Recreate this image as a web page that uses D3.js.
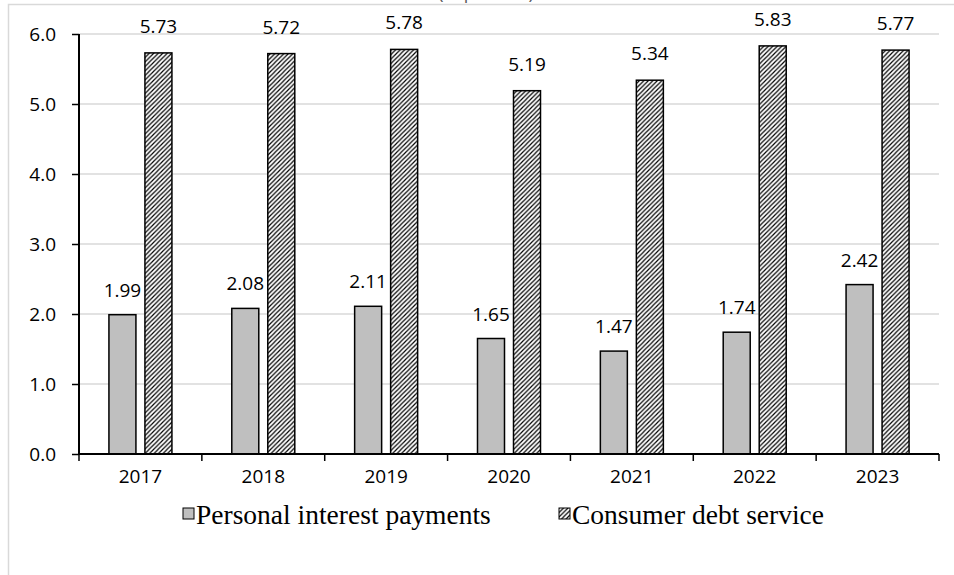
<!DOCTYPE html>
<html lang="en">
<head>
    <meta charset="utf-8">
    <title>Interest payments and debt service</title>
    <script src="https://cdn.jsdelivr.net/npm/d3@7"></script>
    <style>
        body { margin: 0; background: #fff; }
        svg { display: block; }
    </style>
</head>
<body>
<div id="chart"></div>
<script>
    // values
    var years = ["2017", "2018", "2019", "2020", "2021", "2022", "2023"];
    var personalInterest = [1.99, 2.08, 2.11, 1.65, 1.47, 1.74, 2.42];
    var consumerDebt = [5.73, 5.72, 5.78, 5.19, 5.34, 5.83, 5.77];
    var yTicks = [0, 1, 2, 3, 4, 5, 6];
    var seriesNames = ["Personal interest payments", "Consumer debt service"];

    var w = 954;
    var h = 575;
    var plotLeft = 79, plotRight = 939, plotTop = 34, plotBottom = 454;
    var labelFont = "'Open Sans', sans-serif";
    var labelSize = "19px";

    var svg = d3.select("#chart")
        .append("svg")
        .attr("width", w)
        .attr("height", h);

    // hatch for the second series
    var defs = svg.append("defs");
    defs.append("pattern")
        .attr("id", "hatch")
        .attr("patternUnits", "userSpaceOnUse")
        .attr("width", 4.5)
        .attr("height", 4.5)
        .call(function (p) {
            p.append("rect").attr("width", 4.5).attr("height", 4.5).attr("fill", "#fff");
            p.append("path")
                .attr("d", "M-1,1 l2,-2 M0,4.5 l4.5,-4.5 M3.5,5.5 l2,-2")
                .attr("stroke", "#000")
                .attr("stroke-width", 1.2);
        });

    // outer chart border (runs off the page right and bottom)
    svg.append("rect")
        .attr("x", 8.5)
        .attr("y", 4.5)
        .attr("width", 1000)
        .attr("height", 700)
        .attr("fill", "none")
        .attr("stroke", "#d9d9d9")
        .attr("stroke-width", 1.5);

    // title mostly cut off above the frame
    svg.append("text")
        .attr("x", 486)
        .attr("y", -1.5)
        .attr("text-anchor", "middle")
        .style("font-family", labelFont)
        .style("font-size", "18px")
        .style("fill", "#595959")
        .text("(in percent)");

    var xScale = d3.scaleBand()
        .domain(years)
        .range([plotLeft, plotRight])
        .paddingInner(0);

    var xInner = d3.scaleBand()
        .domain(["p", "c"])
        .range([-31.5, 31.5])
        .paddingInner(0.25);

    var yScale = d3.scaleLinear()
        .domain([0, 6])
        .range([plotBottom, plotTop]);

    // gridlines
    svg.append("g")
        .selectAll("line")
        .data(yTicks.slice(1))
        .enter()
        .append("line")
        .attr("x1", plotLeft)
        .attr("x2", plotRight)
        .attr("y1", function (d) { return yScale(d); })
        .attr("y2", function (d) { return yScale(d); })
        .attr("stroke", "#d9d9d9")
        .attr("stroke-width", 1.5);

    var rows = years.map(function (y, i) {
        return { year: y, p: personalInterest[i], c: consumerDebt[i] };
    });

    function center(d) {
        return xScale(d.year) + xScale.bandwidth() / 2;
    }

    var groups = svg.append("g")
        .selectAll("g")
        .data(rows)
        .enter()
        .append("g");

    groups.append("rect")
        .attr("x", function (d) { return center(d) + xInner("p"); })
        .attr("y", function (d) { return yScale(d.p); })
        .attr("width", xInner.bandwidth())
        .attr("height", function (d) { return yScale(0) - yScale(d.p); })
        .attr("fill", "#bfbfbf")
        .attr("stroke", "#000")
        .attr("stroke-width", 1.5);

    groups.append("rect")
        .attr("x", function (d) { return center(d) + xInner("c"); })
        .attr("y", function (d) { return yScale(d.c); })
        .attr("width", xInner.bandwidth())
        .attr("height", function (d) { return yScale(0) - yScale(d.c); })
        .attr("fill", "url(#hatch)")
        .attr("stroke", "#000")
        .attr("stroke-width", 1.5);

    // value labels
    groups.append("text")
        .attr("x", function (d) { return center(d) + xInner("p") + xInner.bandwidth() / 2; })
        .attr("y", function (d) { return yScale(d.p) - 18; })
        .attr("text-anchor", "middle")
        .style("font-family", labelFont)
        .style("font-size", labelSize)
        .text(function (d) { return d.p.toFixed(2); });

    groups.append("text")
        .attr("x", function (d) { return center(d) + xInner("c") + xInner.bandwidth() / 2; })
        .attr("y", function (d) { return yScale(d.c) - 20; })
        .attr("text-anchor", "middle")
        .style("font-family", labelFont)
        .style("font-size", labelSize)
        .text(function (d) { return d.c.toFixed(2); });

    // y axis
    var yAxis = d3.axisLeft(yScale)
        .tickValues(yTicks)
        .tickSize(7)
        .tickPadding(16)
        .tickFormat(d3.format(".1f"));

    var gy = svg.append("g")
        .attr("transform", "translate(" + plotLeft + ",0)")
        .call(yAxis);
    gy.select(".domain").attr("stroke-width", 2).attr("d", "M0," + plotBottom + "V" + plotTop);
    gy.selectAll(".tick line").attr("stroke-width", 1.5);
    gy.selectAll("text")
        .style("font-family", labelFont)
        .style("font-size", labelSize)
        .attr("fill", "#000");

    // x axis with ticks between categories
    var gx = svg.append("g")
        .attr("transform", "translate(0," + plotBottom + ")");
    gx.append("line")
        .attr("x1", plotLeft)
        .attr("x2", plotRight)
        .attr("stroke", "#000")
        .attr("stroke-width", 2);
    var edges = years.map(function (y) { return xScale(y); }).concat([plotRight]);
    gx.selectAll(".edge")
        .data(edges)
        .enter()
        .append("line")
        .attr("class", "edge")
        .attr("x1", function (d) { return d; })
        .attr("x2", function (d) { return d; })
        .attr("y1", 0)
        .attr("y2", 7)
        .attr("stroke", "#000")
        .attr("stroke-width", 1.5);
    gx.selectAll(".lab")
        .data(years)
        .enter()
        .append("text")
        .attr("class", "lab")
        .attr("x", function (d) { return xScale(d) + xScale.bandwidth() / 2; })
        .attr("y", 29)
        .attr("text-anchor", "middle")
        .style("font-family", labelFont)
        .style("font-size", labelSize)
        .text(function (d) { return d; });

    // legend
    var legendX = [183, 559];
    var legend = svg.append("g")
        .selectAll("g")
        .data(seriesNames)
        .enter()
        .append("g")
        .attr("transform", function (d, i) { return "translate(" + legendX[i] + ",508)"; });
    legend.append("rect")
        .attr("width", 11)
        .attr("height", 11)
        .attr("fill", function (d, i) { return i === 0 ? "#bfbfbf" : "url(#hatch)"; })
        .attr("stroke", "#000")
        .attr("stroke-width", 1);
    legend.append("text")
        .attr("x", 13)
        .attr("y", 16)
        .style("font-family", "'Liberation Serif', 'Times New Roman', serif")
        .style("font-size", "27.5px")
        .text(function (d) { return d; });
</script>
</body>
</html>
